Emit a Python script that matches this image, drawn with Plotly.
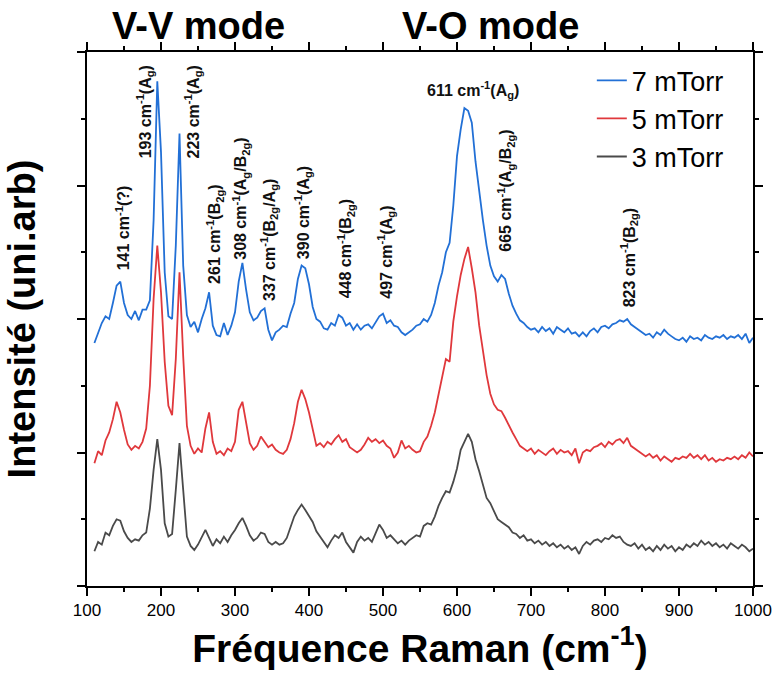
import plotly.graph_objects as go

# Raman shift (cm-1)
wavenumber = list(range(110, 1001, 5))

# Intensities (arb. units, stacked offsets as drawn)
i_7mTorr = [
    1.82, 1.90, 1.97, 2.02, 2.00, 2.12, 2.25, 2.28, 2.12, 2.03,  # 110-155
    2.00, 2.06, 1.99, 2.07, 2.07, 2.14, 2.74, 3.78, 3.25, 2.35,  # 160-205
    2.02, 2.00, 2.55, 3.39, 2.40, 2.03, 1.94, 1.98, 1.90, 2.00,  # 210-255
    2.08, 2.20, 1.95, 1.88, 1.87, 1.97, 1.88, 1.95, 2.05, 2.28,  # 260-305
    2.42, 2.22, 2.05, 1.99, 2.01, 2.06, 2.08, 1.92, 1.84, 1.90,  # 310-355
    1.92, 1.95, 1.94, 2.04, 2.12, 2.30, 2.40, 2.38, 2.26, 2.09,  # 360-405
    2.00, 1.98, 1.93, 1.92, 1.97, 1.95, 2.03, 2.01, 1.95, 1.97,  # 410-455
    1.92, 1.96, 1.92, 1.95, 1.96, 1.93, 1.98, 2.02, 2.04, 1.97,  # 460-505
    1.99, 1.95, 1.94, 1.90, 1.88, 1.90, 1.92, 1.95, 1.96, 2.00,  # 510-555
    1.98, 2.03, 2.12, 2.25, 2.35, 2.50, 2.57, 2.85, 3.22, 3.42,  # 560-605
    3.58, 3.56, 3.47, 3.18, 2.94, 2.74, 2.55, 2.40, 2.32, 2.28,  # 610-655
    2.33, 2.30, 2.19, 2.10, 2.04, 1.99, 1.97, 1.94, 1.92, 1.93,  # 660-705
    1.90, 1.94, 1.91, 1.93, 1.89, 1.94, 1.92, 1.90, 1.93, 1.89,  # 710-755
    1.90, 1.87, 1.90, 1.87, 1.91, 1.93, 1.90, 1.94, 1.95, 1.93,  # 760-805
    1.96, 1.97, 1.99, 1.98, 2.00, 1.96, 1.94, 1.92, 1.90, 1.88,  # 810-855
    1.89, 1.86, 1.90, 1.88, 1.92, 1.89, 1.87, 1.85, 1.84, 1.86,  # 860-905
    1.83, 1.87, 1.85, 1.86, 1.84, 1.88, 1.86, 1.85, 1.87, 1.86,  # 910-955
    1.88, 1.85, 1.87, 1.86, 1.88, 1.85, 1.89, 1.82, 1.86,        # 960-1000
]

i_5mTorr = [
    0.92, 1.01, 0.98, 1.09, 1.15, 1.25, 1.38, 1.30, 1.17, 1.06,  # 110-155
    1.02, 1.05, 1.03, 1.08, 1.18, 1.50, 2.15, 2.55, 2.20, 1.68,  # 160-205
    1.35, 1.28, 1.70, 2.35, 1.72, 1.20, 1.05, 0.99, 1.03, 1.00,  # 210-255
    1.18, 1.30, 1.08, 0.99, 1.01, 0.98, 1.03, 1.01, 1.08, 1.32,  # 260-305
    1.38, 1.22, 1.07, 1.02, 1.05, 1.12, 1.08, 1.04, 1.06, 1.02,  # 310-355
    1.00, 0.99, 1.02, 1.10, 1.22, 1.38, 1.47, 1.40, 1.30, 1.18,  # 360-405
    1.05, 1.07, 1.04, 1.08, 1.06, 1.10, 1.13, 1.08, 1.10, 1.04,  # 410-455
    1.02, 1.00, 1.02, 1.06, 1.11, 1.08, 1.10, 1.07, 1.09, 1.05,  # 460-505
    1.03, 0.96, 1.00, 1.09, 1.03, 1.05, 1.02, 1.00, 1.01, 1.08,  # 510-555
    1.12, 1.20, 1.30, 1.44, 1.56, 1.70, 1.68, 1.98, 2.17, 2.33,  # 560-605
    2.45, 2.54, 2.38, 2.20, 1.95, 1.75, 1.58, 1.44, 1.36, 1.32,  # 610-655
    1.31, 1.26, 1.20, 1.15, 1.10, 1.05, 1.03, 1.01, 1.03, 0.99,  # 660-705
    1.02, 1.00, 0.98, 1.01, 1.03, 0.99, 1.02, 1.00, 1.01, 0.98,  # 710-755
    1.03, 0.92, 1.00, 1.02, 1.01, 1.04, 1.05, 1.07, 1.04, 1.08,  # 760-805
    1.06, 1.09, 1.10, 1.07, 1.11, 1.05, 1.03, 1.01, 0.99, 0.97,  # 810-855
    0.99, 0.96, 0.98, 0.94, 0.97, 0.95, 0.93, 0.96, 0.95, 0.97,  # 860-905
    0.96, 0.99, 0.96, 0.98, 0.95, 0.98, 0.94, 0.96, 0.93, 0.95,  # 910-955
    0.94, 0.96, 0.95, 0.97, 0.95, 0.98, 0.96, 1.00, 0.97,        # 960-1000
]

i_3mTorr = [
    0.26, 0.33, 0.31, 0.40, 0.38, 0.45, 0.50, 0.49, 0.41, 0.36,  # 110-155
    0.33, 0.35, 0.34, 0.38, 0.40, 0.58, 0.87, 1.10, 0.87, 0.47,  # 160-205
    0.37, 0.39, 0.72, 1.07, 0.72, 0.37, 0.30, 0.27, 0.31, 0.37,  # 210-255
    0.42, 0.36, 0.30, 0.35, 0.32, 0.37, 0.33, 0.38, 0.42, 0.47,  # 260-305
    0.51, 0.45, 0.38, 0.34, 0.36, 0.40, 0.39, 0.33, 0.31, 0.33,  # 310-355
    0.31, 0.32, 0.36, 0.44, 0.52, 0.57, 0.61, 0.57, 0.52, 0.48,  # 360-405
    0.41, 0.37, 0.33, 0.29, 0.34, 0.38, 0.36, 0.40, 0.33, 0.29,  # 410-455
    0.25, 0.33, 0.37, 0.34, 0.36, 0.33, 0.40, 0.46, 0.42, 0.36,  # 460-505
    0.38, 0.35, 0.32, 0.34, 0.31, 0.34, 0.36, 0.38, 0.37, 0.45,  # 510-555
    0.47, 0.46, 0.52, 0.60, 0.66, 0.71, 0.70, 0.78, 0.88, 1.02,  # 560-605
    1.08, 1.14, 1.08, 0.95, 0.86, 0.75, 0.66, 0.62, 0.56, 0.50,  # 610-655
    0.48, 0.46, 0.44, 0.40, 0.39, 0.36, 0.38, 0.34, 0.35, 0.32,  # 660-705
    0.34, 0.31, 0.33, 0.30, 0.32, 0.29, 0.31, 0.28, 0.30, 0.27,  # 710-755
    0.29, 0.24, 0.30, 0.33, 0.31, 0.34, 0.35, 0.33, 0.36, 0.35,  # 760-805
    0.38, 0.36, 0.37, 0.33, 0.31, 0.30, 0.32, 0.28, 0.31, 0.27,  # 810-855
    0.29, 0.26, 0.30, 0.27, 0.31, 0.28, 0.30, 0.26, 0.29, 0.27,  # 860-905
    0.31, 0.29, 0.32, 0.30, 0.34, 0.31, 0.33, 0.30, 0.32, 0.29,  # 910-955
    0.31, 0.28, 0.32, 0.30, 0.28, 0.31, 0.29, 0.26, 0.28,        # 960-1000
]

series_names = ["7 mTorr", "5 mTorr", "3 mTorr"]
series_colors = ["#2270d6", "#e0383c", "#4a4a4a"]

# Peak labels: (x position, y position of label base, text)
peak_x = [148, 178, 243, 272, 307, 346, 392, 450, 504, 665, 832]
peak_y = [2.35, 3.19, 3.19, 2.25, 2.43, 2.12, 2.43, 2.14, 2.14, 2.49, 2.07]
peak_text = [
    "141 cm<sup>-1</sup>(?)",
    "193 cm<sup>-1</sup>(A<sub>g</sub>)",
    "223 cm<sup>-1</sup>(A<sub>g</sub>)",
    "261 cm<sup>-1</sup>(B<sub>2g</sub>)",
    "308 cm<sup>-1</sup>(A<sub>g</sub>/B<sub>2g</sub>)",
    "337 cm<sup>-1</sup>(B<sub>2g</sub>/A<sub>g</sub>)",
    "390 cm<sup>-1</sup>(A<sub>g</sub>)",
    "448 cm<sup>-1</sup>(B<sub>2g</sub>)",
    "497 cm<sup>-1</sup>(A<sub>g</sub>)",
    "665 cm<sup>-1</sup>(A<sub>g</sub>/B<sub>2g</sub>)",
    "823 cm<sup>-1</sup>(B<sub>2g</sub>)",
]
top_peak_x = 622
top_peak_y = 3.62
top_peak_text = "611 cm<sup>-1</sup>(A<sub>g</sub>)"

mode_x = [251, 645]
mode_text = ["V-V mode", "V-O mode"]

FONT = "Liberation Sans, Arial, sans-serif"

fig = go.Figure()
for name, color, ys in zip(series_names, series_colors,
                           [i_7mTorr, i_5mTorr, i_3mTorr]):
    fig.add_trace(go.Scatter(x=wavenumber, y=ys, mode="lines", name=name,
                             line=dict(color=color, width=1.8)))

annotations = []
for x, y, t in zip(peak_x, peak_y, peak_text):
    annotations.append(dict(x=x, y=y, xref="x", yref="y", text="<b>" + t + "</b>",
                            textangle=-90, showarrow=False, xanchor="center",
                            yanchor="bottom", font=dict(family=FONT, size=16, color="#111")))
annotations.append(dict(x=top_peak_x, y=top_peak_y, xref="x", yref="y",
                        text="<b>" + top_peak_text + "</b>", showarrow=False,
                        xanchor="center", yanchor="bottom",
                        font=dict(family=FONT, size=16, color="#111")))
for x, t in zip(mode_x, mode_text):
    annotations.append(dict(x=x, y=1.048, xref="x", yref="paper", text="<b>" + t + "</b>",
                            showarrow=False, xanchor="center", yanchor="middle",
                            font=dict(family=FONT, size=38, color="#000")))

fig.update_layout(
    width=778, height=674,
    margin=dict(l=87, r=25, t=52, b=88),
    paper_bgcolor="white", plot_bgcolor="white",
    font=dict(family=FONT, color="#000"),
    showlegend=True,
    legend=dict(x=0.758, y=0.992, xanchor="left", yanchor="top",
                bgcolor="rgba(0,0,0,0)", font=dict(family=FONT, size=27),
                tracegroupgap=0, itemwidth=30),
    annotations=annotations,
)

fig.update_xaxes(
    range=[100, 1000], dtick=100, tick0=100, automargin=False,
    showline=True, linecolor="black", linewidth=1.5, mirror="ticks",
    ticks="outside", ticklen=8, tickwidth=1.5, tickcolor="black",
    minor=dict(dtick=50, ticklen=4, tickwidth=1.5, tickcolor="black", ticks="outside"),
    showgrid=False, zeroline=False,
    tickfont=dict(family=FONT, size=17),
    title=dict(text="<b>Fréquence Raman (cm<sup>-1</sup>)</b>",
               font=dict(family=FONT, size=39), standoff=4),
)
fig.update_yaxes(
    range=[0, 4], dtick=1, tick0=0, automargin=False,
    showline=True, linecolor="black", linewidth=1.5, mirror="ticks",
    ticks="outside", ticklen=8, tickwidth=1.5, tickcolor="black",
    minor=dict(dtick=0.5, ticklen=4, tickwidth=1.5, tickcolor="black", ticks="outside"),
    showticklabels=False, showgrid=False, zeroline=False,
    title=dict(text="<b>Intensité (uni.arb)</b>",
               font=dict(family=FONT, size=38), standoff=30),
)

fig.write_html("out.html")
